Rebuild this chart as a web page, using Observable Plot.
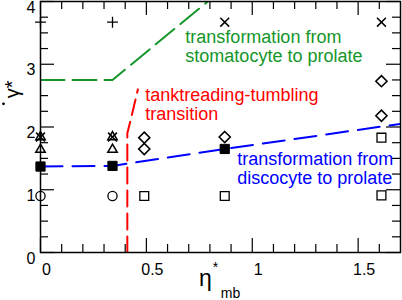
<!DOCTYPE html>
<html><head><meta charset="utf-8">
<script src="https://cdn.jsdelivr.net/npm/d3@7"></script>
<script src="https://cdn.jsdelivr.net/npm/@observablehq/plot@0.6"></script>
<style>body{margin:0;background:#fff} svg{display:block}</style>
</head><body><div id="chart"></div>
<script>
// ---- data ----
const plusEta = [0, 0.34], plusGamma = [3.67, 3.67];
const timesEta = [0, 0.34, 0.87, 1.61], timesGamma = [1.84, 1.84, 3.67, 3.67];
const triEta = [0, 0, 0.34, 0.34], triGamma = [1.84, 1.64, 1.84, 1.64];
const fillSqEta = [0, 0.34, 0.87], fillSqGamma = [1.37, 1.38, 1.65];
const circEta = [0, 0.34], circGamma = [0.9, 0.9];
const openSqEta = [0.49, 0.87, 1.61, 1.61], openSqGamma = [0.9, 0.9, 0.91, 1.83];
const diaEta = [0.49, 0.49, 0.87, 1.61, 1.61], diaGamma = [1.83, 1.65, 1.84, 2.18, 2.73];

const blueEta = [0, 0.34, 0.87, 1.7], blueGamma = [1.37, 1.38, 1.65, 2.05];
const greenEta = [0, 0.34, 0.79], greenGamma = [2.75, 2.75, 4.0];
const redEta = [0.41, 0.41, 0.425, 0.46], redGamma = [0, 1.9, 2.1, 2.6];

const xMajor = [0, 0.5, 1, 1.5], xMajorLabels = ["0", "0.5", "1", "1.5"];
const xMinor = [0.1, 0.2, 0.3, 0.4, 0.6, 0.7, 0.8, 0.9, 1.1, 1.2, 1.3, 1.4, 1.6];
const yMajor = [0, 1, 2, 3, 4], yMajorLabels = ["0", "1", "2", "3", "4"];
const yMinor = [0.25, 0.5, 0.75, 1.25, 1.5, 1.75, 2.25, 2.5, 2.75, 3.25, 3.5, 3.75];

const noteTexts = ["transformation from\nstomatocyte to prolate", "tanktreading-tumbling\ntransition", "transformation from\ndiscocyte to prolate"];
const noteEta = [0.684, 0.495, 0.929];
const noteGamma = [3.04, 2.11, 1.09];
const noteColors = ["#14962a", "#ff0000", "#0000ff"];

const pts = (xs, ys) => xs.map((x, i) => ({x, y: ys[i]}));

const W = 402, H = 300, mL = 40, mR = 2, mT = 1, mB = 48;
const fw = W - mL - mR, fh = H - mT - mB;
const font = "Liberation Sans, Arial, Helvetica, sans-serif";

const chart = Plot.plot({
  width: W, height: H,
  marginLeft: mL, marginRight: mR, marginTop: mT, marginBottom: mB,
  style: {fontFamily: font, background: "white", overflow: "visible"},
  x: {domain: [0, 1.7], axis: null},
  y: {domain: [0, 4], axis: null},
  marks: [
    // ticks (inside, on all four sides)
    Plot.tickX(xMajor, {x: d => d, insetTop: fh - 14, stroke: "black", strokeWidth: 1.2}),
    Plot.tickX(xMajor, {x: d => d, insetBottom: fh - 14, stroke: "black", strokeWidth: 1.2}),
    Plot.tickX(xMinor, {x: d => d, insetTop: fh - 8, stroke: "black", strokeWidth: 1.2}),
    Plot.tickX(xMinor, {x: d => d, insetBottom: fh - 8, stroke: "black", strokeWidth: 1.2}),
    Plot.tickY(yMajor, {y: d => d, insetRight: fw - 14, stroke: "black", strokeWidth: 1.2}),
    Plot.tickY(yMajor, {y: d => d, insetLeft: fw - 14, stroke: "black", strokeWidth: 1.2}),
    Plot.tickY(yMinor, {y: d => d, insetRight: fw - 8, stroke: "black", strokeWidth: 1.2}),
    Plot.tickY(yMinor, {y: d => d, insetLeft: fw - 8, stroke: "black", strokeWidth: 1.2}),
    // tick labels
    Plot.text(xMajor, {x: d => d, text: (d, i) => xMajorLabels[i], frameAnchor: "bottom", lineAnchor: "bottom", dy: 22, dx: 6, fontSize: 16, fill: "black"}),
    Plot.text(yMajor, {y: d => d, text: (d, i) => yMajorLabels[i], frameAnchor: "left", textAnchor: "end", dx: -5, dy: 6, fontSize: 16, fill: "black"}),
    // axis titles
    Plot.text(["η"], {frameAnchor: "bottom", lineAnchor: "bottom", dx: -15, dy: 33, fontSize: 23, fill: "black"}),
    Plot.text(["*"], {frameAnchor: "bottom", lineAnchor: "bottom", dx: -5, dy: 19, fontSize: 14, fill: "black"}),
    Plot.text(["mb"], {frameAnchor: "bottom", lineAnchor: "bottom", dx: 10, dy: 45, fontSize: 14, fill: "black"}),
    Plot.text(["γ*"], {y: [2.46], frameAnchor: "left", dx: -28, rotate: -90, fontSize: 20, fill: "black"}),
    Plot.dot([2.37], {y: d => d, frameAnchor: "left", dx: -37, r: 1.4, fill: "black", stroke: null}),
    // dashed lines
    Plot.line(pts(greenEta, greenGamma), {x: "x", y: "y", stroke: "#14962a", strokeWidth: 2, strokeDasharray: "24,8", clip: true}),
    Plot.line(pts(redEta, redGamma), {x: "x", y: "y", stroke: "#ff0000", strokeWidth: 2, strokeDasharray: "16,7", clip: true}),
    Plot.line(pts(blueEta, blueGamma), {x: "x", y: "y", stroke: "#0000ff", strokeWidth: 2, strokeDasharray: "22,10", clip: true}),
    // annotations
    Plot.text(noteTexts, {x: (d, i) => noteEta[i], y: (d, i) => noteGamma[i], text: d => d, fill: (d, i) => noteColors[i], textAnchor: "start", lineAnchor: "bottom", lineHeight: 1.05, fontSize: 18}),
    // markers
    Plot.dot(pts(plusEta, plusGamma), {x: "x", y: "y", symbol: "plus", r: 3.6, stroke: "black", strokeWidth: 1.3}),
    Plot.dot(pts(timesEta, timesGamma), {x: "x", y: "y", symbol: "times", r: 4.1, stroke: "black", strokeWidth: 1.5}),
    Plot.dot(pts(triEta, triGamma), {x: "x", y: "y", symbol: "triangle2", r: 4.5, stroke: "black", fill: "none", strokeWidth: 1.5}),
    Plot.dot(pts(circEta, circGamma), {x: "x", y: "y", symbol: "circle", r: 4.6, stroke: "black", fill: "none", strokeWidth: 1.3}),
    Plot.dot(pts(openSqEta, openSqGamma), {x: "x", y: "y", symbol: "square", r: 5, stroke: "black", fill: "none", strokeWidth: 1.3}),
    Plot.dot(pts(diaEta, diaGamma), {x: "x", y: "y", symbol: "diamond2", r: 5, stroke: "black", fill: "none", strokeWidth: 1.6}),
    Plot.dot(pts(fillSqEta, fillSqGamma), {x: "x", y: "y", symbol: "square", r: 5.2, stroke: "black", fill: "black", strokeWidth: 1}),
    Plot.frame({stroke: "black", strokeWidth: 1.5})
  ]
});
document.getElementById("chart").appendChild(chart);
</script>
</body></html>
